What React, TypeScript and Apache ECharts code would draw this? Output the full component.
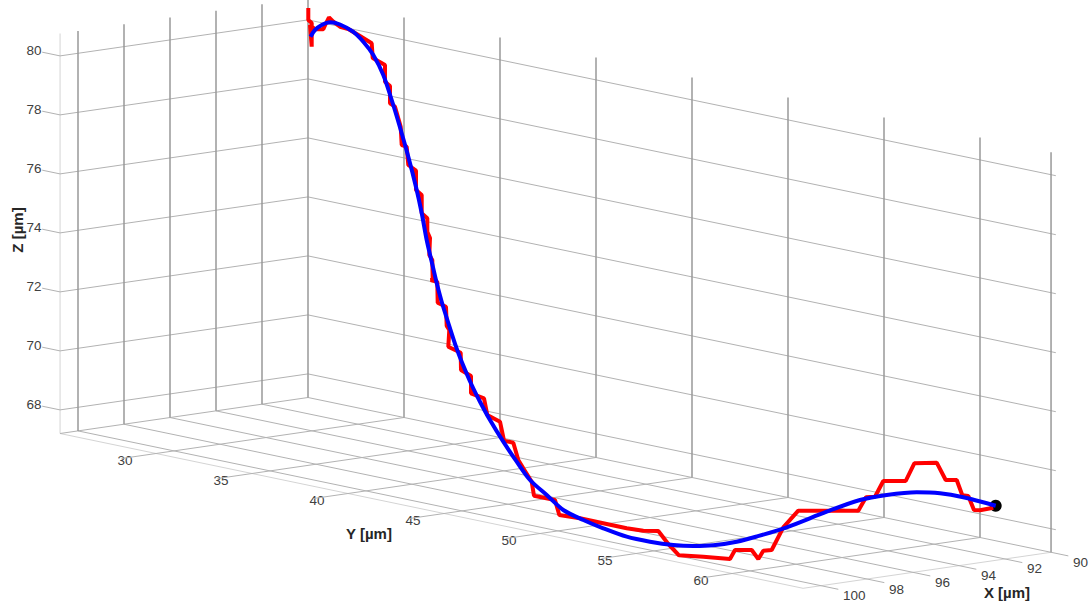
import React, { useEffect, useRef } from "react";
import * as echarts from "echarts";

// Axis ticks in micrometres
const xTicks = [90, 92, 94, 96, 98, 100];
const yTicks = [30, 35, 40, 45, 50, 55, 60];
const zTicks = [68, 70, 72, 74, 76, 78, 80];
const xRange = [90, 100.78];
const yRange = [25, 63.7];
const zRange = [67.2, 80.76];

// Measured trajectory, read on the projection plane of the picture
const redH = [308.3, 308.3, 311.7, 311.7, 310, 315, 323.3, 326, 329, 333.3, 340, 348.3, 358.3, 371.7, 372.7, 385, 385, 390, 390, 395, 400.7, 401.7, 406.7, 408.3, 416, 416, 421.7, 421.7, 427.3, 427.3, 430, 429.3, 432.3, 432.7, 430.7, 437.3, 437.7, 446, 446.7, 449.3, 448.3, 460.7, 461, 471, 471, 484, 487.3, 500, 504, 513.3, 518.3, 523.3, 531.7, 534, 555, 559.3, 580, 606.7, 626.7, 643.3, 658.3, 668.3, 679, 703.3, 730, 735, 751.7, 758.3, 763.3, 771.7, 783.3, 798.3, 858.3, 866, 875, 883.3, 905.7, 914.3, 936.7, 945.7, 956.7, 962.3, 968.3, 974, 980, 993.3];
const redV = [8, 20, 23, 46.7, 25, 29.3, 29.3, 23.3, 17.3, 21.7, 26.7, 29, 35, 43.3, 58, 65, 81.7, 86, 103.3, 106.7, 126.7, 145, 146.7, 165, 170.7, 190, 195, 213.3, 218.3, 231.7, 238, 255, 260, 279.3, 280, 281.7, 302.7, 306.7, 326, 330, 346.7, 352.7, 370, 376, 393.3, 398.3, 415, 421.7, 440.7, 442.7, 460, 468.3, 481.7, 495.7, 500, 515, 518.3, 524, 528.3, 530.7, 531, 544, 555.3, 556.7, 559, 550, 550, 559, 550.7, 550, 527.3, 510.7, 510.7, 497.3, 496.7, 481, 481, 463.3, 462.7, 480, 480, 495.3, 496, 510, 510.3, 507.7];

// Fitted trajectory, read on the same plane
const blueH = [310.5, 315, 321.7, 330, 340, 353, 363.3, 373.3, 383.3, 391.7, 399.3, 408.3, 416, 421.7, 426.7, 431.7, 436.7, 441.7, 448.3, 456, 461.7, 471.7, 480, 490, 503.3, 516.7, 530, 546.7, 563.3, 583.3, 603.3, 626.7, 650, 673.3, 693.3, 713.3, 736.7, 756.7, 786.7, 826.7, 860, 886.7, 916.7, 940, 963.3, 995.7];
const blueV = [36.7, 30, 25, 22.3, 24.5, 31.7, 41.7, 55, 75, 100, 125, 156.7, 187, 213, 240, 261.7, 283, 301.7, 323, 346.7, 361.7, 385, 401.7, 420, 441.7, 461.7, 480, 495, 510, 520, 528.3, 536.7, 541.7, 545, 546, 545.3, 541.7, 536.5, 527.3, 511.7, 500, 495, 492.3, 493.3, 497.3, 505.7];

const endH = [995.7];
const endV = [505.7];

// Orthographic view of the 3D box onto the picture plane
const project = (x: number, y: number, z: number): [number, number] => [
  308 + (y - 25) * 19.2 - (x - 90) * 23,
  397.5 + (y - 25) * 4 + (x - 90) * 3.34 - (z - zRange[0]) * 29.5,
];

const NUM = '13.5px "Liberation Sans", Arial, sans-serif';
const TITLE = 'bold 15px "Liberation Sans", Arial, sans-serif';

function polyline(points: [number, number][], color: string, width: number, smooth = 0) {
  return {
    type: "line",
    data: points,
    showSymbol: false,
    symbol: "none",
    silent: true,
    clip: false,
    smooth,
    lineStyle: { color, width },
  };
}

function buildOption() {
  const [x0, x1] = xRange;
  const [y0, y1] = yRange;
  const [z0, z1] = zRange;
  const series: any[] = [];
  const thin = "#b2b2b2";
  const dark = "#999999";
  const light = "#d4d4d4";

  // outer box edges
  series.push(polyline([project(x1, y0, z1), project(x1, y0, z0), project(x1, y1, z0), project(x0, y1, z0)], light, 1));

  // z grid lines, both walls, with the tick stub at the left
  for (const z of zTicks) {
    series.push(
      polyline([project(x1, y0 - 0.93, z), project(x1, y0, z), project(x0, y0, z), project(x0, y1 + 0.25, z)], thin, 1)
    );
  }
  // floor lines with tick stubs
  for (const x of xTicks) {
    series.push(polyline([project(x, y0, z0), project(x, y1 + 0.9, z0)], thin, 1));
  }
  for (const y of [y0, ...yTicks]) {
    const end = y === y0 ? x1 : x1 + 1.5;
    series.push(polyline([project(x0, y, z0), project(end, y, z0)], thin, 1));
  }
  // vertical grid lines
  for (const x of xTicks) {
    series.push(polyline([project(x, y0, z0), project(x, y0, z1)], dark, 1.5));
  }
  for (const y of [...yTicks, y1]) {
    series.push(polyline([project(x0, y, z0), project(x0, y, z1)], dark, 1.5));
  }

  // trajectories
  series.push(polyline(redH.map((h, i) => [h, redV[i]] as [number, number]), "#ff0000", 4));
  series.push(polyline(blueH.map((h, i) => [h, blueV[i]] as [number, number]), "#0000ff", 4, 0.3));
  series.push({
    type: "scatter",
    data: endH.map((h, i) => [h, endV[i]]),
    symbolSize: 12,
    silent: true,
    itemStyle: { color: "#000000", opacity: 1 },
  });

  const label = (text: string, x: number, y: number, align = "center") => ({
    type: "text",
    x,
    y,
    silent: true,
    style: { text, x: 0, y: 0, font: NUM, fill: "#404040", align, verticalAlign: "middle" },
  });
  const title = (text: string, x: number, y: number, rotation = 0) => ({
    type: "text",
    x,
    y,
    rotation,
    silent: true,
    style: { text, x: 0, y: 0, font: TITLE, fill: "#262626", align: "center", verticalAlign: "middle" },
  });

  const graphic: any[] = [];
  for (const z of zTicks) {
    const [, sy] = project(x1, y0, z);
    graphic.push(label(String(z), 34, sy - 5));
  }
  for (const y of yTicks) {
    const [sx, sy] = project(x1, y, z0);
    graphic.push(label(String(y), sx - 31, sy + 6.8));
  }
  for (const x of xTicks) {
    const [sx, sy] = project(x, y1, z0);
    graphic.push(label(String(x), sx + 22, sy + 10, "left"));
  }
  graphic.push(title("X [µm]", 1007, 592));
  graphic.push(title("Y [µm]", 369, 533));
  graphic.push(title("Z [µm]", 17, 230, Math.PI / 2));

  return {
    animation: false,
    backgroundColor: "#ffffff",
    grid: { left: 0, top: 0, right: 0, bottom: 0 },
    xAxis: { type: "value", min: 0, max: 1092, show: false },
    yAxis: { type: "value", min: 0, max: 610, inverse: true, show: false },
    series,
    graphic,
  };
}

export default function App() {
  const ref = useRef<HTMLDivElement>(null);
  useEffect(() => {
    if (!ref.current) return;
    const chart = echarts.init(ref.current, undefined, { renderer: "svg" });
    chart.setOption(buildOption() as any);
    return () => chart.dispose();
  }, []);
  return <div ref={ref} style={{ position: "fixed", left: 0, top: 0, width: 1092, height: 610 }} />;
}
